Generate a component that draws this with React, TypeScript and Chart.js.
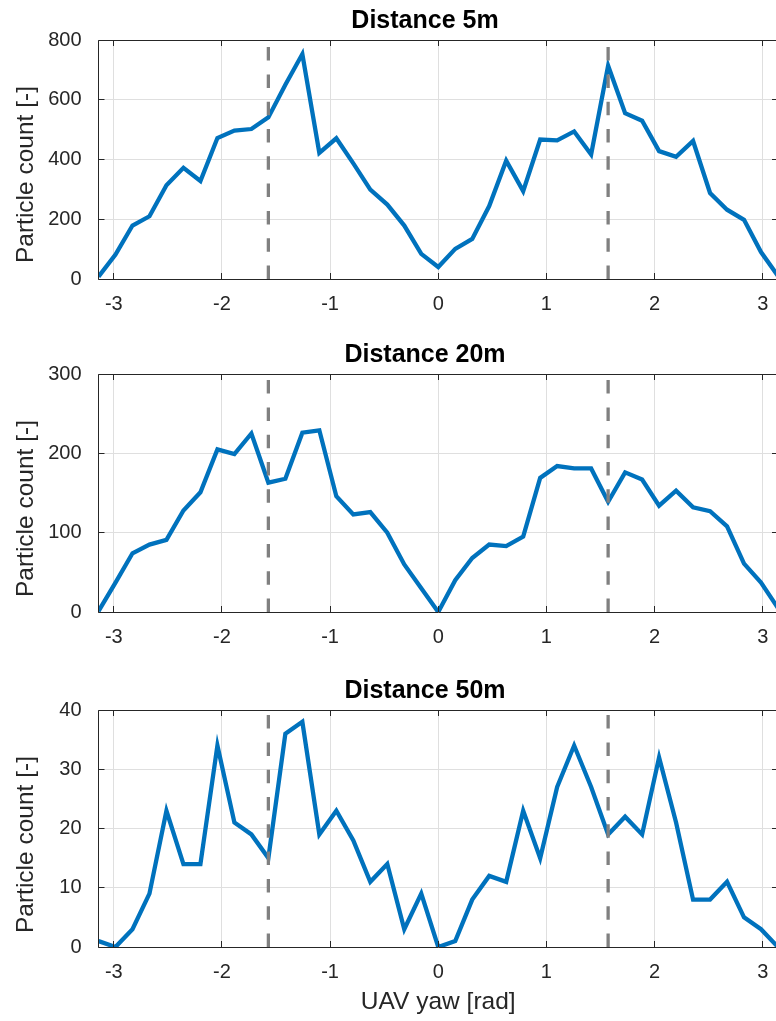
import React, { useEffect, useRef } from "react";
import { Chart, registerables } from "chart.js";

Chart.register(...registerables);

// UAV yaw samples [rad]
const YAW = [
  -3.1416, -2.9845, -2.8274, -2.6704, -2.5133, -2.3562, -2.1991, -2.042, -1.885, -1.7279,
  -1.5708, -1.4137, -1.2566, -1.0996, -0.9425, -0.7854, -0.6283, -0.4712, -0.3142, -0.1571,
  0,
  0.1571, 0.3142, 0.4712, 0.6283, 0.7854, 0.9425, 1.0996, 1.2566, 1.4137, 1.5708,
  1.7279, 1.885, 2.042, 2.1991, 2.3562, 2.5133, 2.6704, 2.8274, 2.9845, 3.1416,
];

const COUNT_5M = [
  8, 82, 179, 210, 314, 372, 328, 472, 497, 502, 541, 650, 753, 422, 471, 387, 299, 249, 179, 84,
  40,
  101, 134, 244, 396, 294, 467, 464, 494, 417, 714, 555, 530, 428, 409, 462, 288, 232, 198, 90, 10,
];

const COUNT_20M = [
  1, 37, 74, 85, 91, 128, 151, 205, 199, 225, 163, 168, 226, 229, 146, 123, 126, 100, 60, 30,
  0,
  40, 68, 85, 83, 95, 169, 184, 181, 181, 139, 176, 167, 134, 153, 132, 127, 108, 61, 37, 5,
];

const COUNT_50M = [
  1, 0, 3, 9, 23, 14, 14, 34, 21, 19, 15, 36, 38, 19, 23, 18, 11, 14, 3, 9,
  0,
  1, 8, 12, 11, 23, 15, 27, 34, 27, 19, 22, 19, 32, 21, 8, 8, 11, 5, 3, 0,
];

const X_TICKS = [-3, -2, -1, 0, 1, 2, 3];
const Y_TICKS_5M = [0, 200, 400, 600, 800];
const Y_TICKS_20M = [0, 100, 200, 300];
const Y_TICKS_50M = [0, 10, 20, 30, 40];

const MARKERS = [-1.5708, 1.5708]; // ±π/2

const TITLES = ["Distance 5m", "Distance 20m", "Distance 50m"];
const Y_LABEL = "Particle count [-]";
const X_LABEL = "UAV yaw [rad]";

const FONT = '"Liberation Sans", Arial, Helvetica, sans-serif';
const AXIS_COLOR = "#262626";
const GRID_COLOR = "#DFDFDF";
const LINE_COLOR = "#0072BD";
const MARK_COLOR = "#808080";

type Panel = {
  title: string;
  values: number[];
  yTicks: number[];
  top: number;
  height: number;
  plotTop: number;
  xAxisHeight: number;
  showXTitle: boolean;
};

const PANELS: Panel[] = [
  { title: TITLES[0], values: COUNT_5M, yTicks: Y_TICKS_5M, top: 0, height: 335, plotTop: 40, xAxisHeight: 56, showXTitle: false },
  { title: TITLES[1], values: COUNT_20M, yTicks: Y_TICKS_20M, top: 335, height: 335, plotTop: 39, xAxisHeight: 58, showXTitle: false },
  { title: TITLES[2], values: COUNT_50M, yTicks: Y_TICKS_50M, top: 670, height: 351, plotTop: 40, xAxisHeight: 74, showXTitle: true },
];

const CANVAS_W = 790;

function framePlugin(p: Panel) {
  return {
    id: "frame",
    afterDatasetsDraw(chart: any) {
      const { ctx, chartArea, scales } = chart;
      const { left, right, top, bottom } = chartArea;
      const xs = scales.x;
      const ys = scales.y;
      const al = (v: number) => Math.floor(v) + 0.5;
      ctx.save();
      ctx.strokeStyle = AXIS_COLOR;
      ctx.lineWidth = 1;
      ctx.beginPath();
      ctx.rect(al(left), al(top), al(right) - al(left), al(bottom) - al(top));
      ctx.stroke();
      const TL = 6;
      ctx.beginPath();
      for (const v of X_TICKS) {
        const px = al(xs.getPixelForValue(v));
        ctx.moveTo(px, bottom);
        ctx.lineTo(px, bottom - TL);
        ctx.moveTo(px, top);
        ctx.lineTo(px, top + TL);
      }
      for (const v of p.yTicks) {
        const py = al(ys.getPixelForValue(v));
        ctx.moveTo(left, py);
        ctx.lineTo(left + TL, py);
        ctx.moveTo(right, py);
        ctx.lineTo(right - TL, py);
      }
      ctx.stroke();
      ctx.restore();
    },
    afterDraw(chart: any) {
      const { ctx, chartArea } = chart;
      ctx.save();
      ctx.fillStyle = "#000";
      ctx.font = `bold 25px ${FONT}`;
      ctx.textAlign = "center";
      ctx.textBaseline = "alphabetic";
      ctx.fillText(p.title, 425, chartArea.top - 12);
      ctx.fillStyle = AXIS_COLOR;
      ctx.font = `24.5px ${FONT}`;
      ctx.translate(32.5, chartArea.top + 134.5);
      ctx.rotate(-Math.PI / 2);
      ctx.fillText(Y_LABEL, 0, 0);
      ctx.restore();
    },
  };
}

function makeConfig(p: Panel): any {
  const yMax = p.yTicks[p.yTicks.length - 1];
  const yMin = p.yTicks[0];
  const markerSets = MARKERS.map((m) => ({
    data: [
      { x: m, y: yMin },
      { x: m, y: yMax },
    ],
    borderColor: MARK_COLOR,
    borderWidth: 3.3,
    borderDash: [13.5, 13.8],
    pointRadius: 0,
    order: 0,
  }));
  return {
    type: "line",
    data: {
      datasets: [
        ...markerSets,
        {
          data: YAW.map((x, i) => ({ x, y: p.values[i] })),
          borderColor: LINE_COLOR,
          borderWidth: 4.3,
          pointRadius: 0,
          tension: 0,
          order: 1,
        },
      ],
    },
    options: {
      responsive: false,
      animation: false,
      devicePixelRatio: 1,
      layout: { padding: { top: p.plotTop, left: 0, right: CANVAS_W - 778, bottom: 0 } },
      plugins: { legend: { display: false }, tooltip: { enabled: false }, title: { display: false } },
      scales: {
        x: {
          type: "linear",
          min: -Math.PI,
          max: Math.PI,
          afterBuildTicks: (s: any) => {
            s.ticks = X_TICKS.map((v) => ({ value: v }));
          },
          afterFit: (s: any) => {
            s.height = p.xAxisHeight;
          },
          grid: { color: GRID_COLOR, lineWidth: 1, drawTicks: false },
          border: { display: false },
          ticks: {
            padding: 13,
            color: AXIS_COLOR,
            font: { family: FONT, size: 20 },
            maxRotation: 0,
            autoSkip: false,
            callback: (v: any) => String(v),
          },
          title: {
            display: p.showXTitle,
            text: X_LABEL,
            color: AXIS_COLOR,
            font: { family: FONT, size: 24.5 },
            padding: { top: 4, bottom: 4 },
          },
        },
        y: {
          type: "linear",
          min: yMin,
          max: yMax,
          afterBuildTicks: (s: any) => {
            s.ticks = p.yTicks.map((v) => ({ value: v }));
          },
          afterFit: (s: any) => {
            s.width = 98.5;
          },
          grid: { color: GRID_COLOR, lineWidth: 1, drawTicks: false },
          border: { display: false },
          ticks: {
            padding: 17,
            color: AXIS_COLOR,
            font: { family: FONT, size: 20 },
            autoSkip: false,
            callback: (v: any) => String(v),
          },
        },
      },
    },
    plugins: [framePlugin(p)],
  };
}

function PanelChart({ p }: { p: Panel }) {
  const ref = useRef<HTMLCanvasElement | null>(null);
  useEffect(() => {
    if (!ref.current) return;
    const chart = new Chart(ref.current, makeConfig(p));
    return () => chart.destroy();
  }, [p]);
  return (
    <canvas
      ref={ref}
      width={CANVAS_W}
      height={p.height}
      style={{ position: "absolute", left: 0, top: p.top, width: CANVAS_W, height: p.height, display: "block" }}
    />
  );
}

export default function App() {
  return (
    <div
      style={{
        position: "absolute",
        left: 0,
        top: 0,
        width: 776,
        height: 1021,
        overflow: "hidden",
        background: "#fff",
      }}
    >
      {PANELS.map((p, i) => (
        <PanelChart key={i} p={p} />
      ))}
    </div>
  );
}
